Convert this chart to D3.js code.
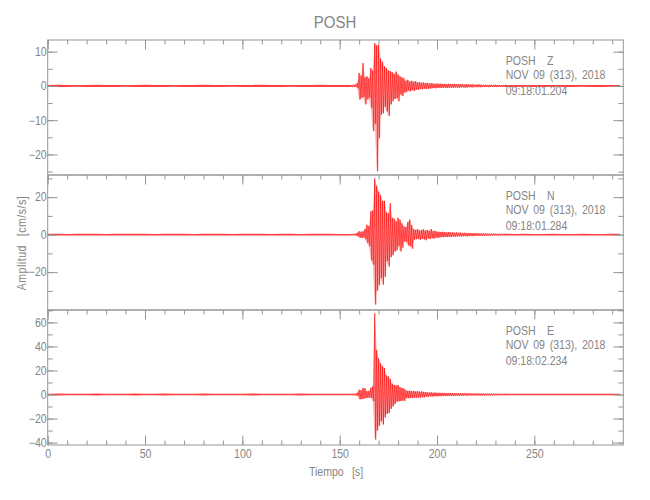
<!DOCTYPE html>
<html>
<head>
<meta charset="utf-8">
<script src="https://cdn.jsdelivr.net/npm/d3@7/dist/d3.min.js"></script>
<style>
  html, body { margin: 0; padding: 0; background: #fff; }
  svg { display: block; }
  text { font-family: "Liberation Sans", Arial, sans-serif; fill: #858585; word-spacing: 2px;
         transform-box: fill-box; transform: scaleX(0.88); }
  text.mid { transform-origin: center center; }
  text.left { transform-origin: left center; }
  text.right { transform-origin: right center; }
</style>
</head>
<body>
<svg id="chart" width="650" height="500"></svg>
<script>
// ---------------- DATA ----------------
const chartTitle = "POSH";
const station = "POSH";
const components = ["Z", "N", "E"];
const dateLabel = "NOV 09 (313), 2018";
const startTimes = ["09:18:01.204", "09:18:01.284", "09:18:02.234"];
const xLabel = "Tiempo [s]";
const yLabel = "Amplitud [cm/s/s]";
const xDomain = [0, 295.7];
const xMajorTicks = [0, 50, 100, 150, 200, 250];
const xMinorStep = 10;
const yDomains = [[-26, 13.4], [-40.2, 31.8], [-42, 70.3]];
const yMajorTicks = [[10, 0, -10, -20], [20, 0, -20], [60, 40, 20, 0, -20, -40]];
const yMinorStep = [5, 10, 10];

// pre-event noise amplitude, every 5 s from t = 0 to 150 s
const noiseStart = 0, noiseStep = 5;
const zNoise = [0.3,0.35,0.3,0.25,0.3,0.35,0.3,0.3,0.25,0.3,0.35,0.3,0.3,0.25,0.3,0.3,0.35,0.3,0.3,0.25,0.3,0.3,0.35,0.3,0.3,0.25,0.3,0.3,0.35,0.3,0.3];
const nNoise = [0.45,0.5,0.4,0.45,0.5,0.45,0.4,0.5,0.45,0.45,0.5,0.4,0.45,0.5,0.45,0.4,0.45,0.5,0.45,0.4,0.5,0.45,0.45,0.4,0.5,0.45,0.4,0.45,0.5,0.45,0.4];
const eNoise = [0.7,0.75,0.7,0.65,0.7,0.8,0.7,0.7,0.65,0.75,0.7,0.7,0.8,0.7,0.65,0.7,0.75,0.7,0.7,0.65,0.7,0.8,0.7,0.7,0.65,0.7,0.75,0.7,0.7,0.65,0.7];

// event: upper / lower peaks, every 1 s from t = 156 to 235 s
const eventStart = 156, eventStep = 1;
const zUp = [0.3,0.35,0.4,0.8,3.8,3.0,6.7,2.5,2.8,2.2,
             5.2,4.5,12.5,11.8,12.0,8.0,7.0,5.7,5.2,4.5,
             4.3,4.0,3.5,4.2,3.3,2.8,2.5,2.2,1.5,1.8,
             1.3,1.5,1.2,1.4,1.0,1.1,0.9,1.0,0.8,0.9,
             0.7,0.8,0.7,0.6,0.7,0.6,0.65,0.55,0.6,0.5,
             0.6,0.55,0.5,0.6,0.5,0.45,0.5,0.5,0.4,0.5,
             0.45,0.4,0.45,0.4,0.35,0.4,0.4,0.35,0.3,0.35,
             0.3,0.35,0.3,0.3,0.35,0.3,0.3,0.25,0.3,0.3];
const zLo = [-0.3,-0.3,-0.3,-0.7,-4.0,-3.5,-3.2,-5.4,-4.0,-3.5,
             -6.4,-13.2,-11.0,-24.9,-15.3,-8.4,-8.0,-6.0,-7.4,-8.8,
             -5.4,-4.5,-3.8,-3.5,-4.5,-2.5,-3.0,-2.0,-1.8,-1.4,
             -1.6,-1.2,-1.5,-1.1,-1.2,-0.9,-1.0,-0.8,-0.9,-0.8,
             -0.8,-0.7,-0.6,-0.7,-0.6,-0.55,-0.6,-0.5,-0.55,-0.6,
             -0.5,-0.5,-0.55,-0.45,-0.5,-0.5,-0.45,-0.4,-0.5,-0.45,
             -0.4,-0.4,-0.45,-0.35,-0.4,-0.35,-0.4,-0.3,-0.35,-0.3,
             -0.35,-0.3,-0.3,-0.3,-0.35,-0.3,-0.25,-0.3,-0.3,-0.3];
const nUp = [0.4,0.5,0.5,1.0,1.8,1.5,1.8,3.0,5.3,4.6,
             12.4,13.0,30.0,26.0,23.0,21.0,18.0,18.0,12.0,11.4,
             16.7,9.0,8.5,7.0,9.0,8.0,6.0,4.4,4.0,6.7,
             8.0,5.0,3.0,2.5,3.0,2.2,2.5,2.8,2.2,2.5,
             2.0,3.0,1.8,2.0,1.6,1.5,1.4,1.5,1.3,1.2,
             1.4,1.1,1.2,1.0,1.2,1.0,1.1,0.9,1.0,0.9,
             0.8,0.9,0.8,0.7,0.8,0.7,0.6,0.7,0.6,0.6,
             0.55,0.6,0.5,0.55,0.5,0.5,0.45,0.5,0.45,0.45];
const nLo = [-0.4,-0.4,-0.5,-0.9,-1.6,-1.8,-1.5,-2.5,-4.4,-6.2,
             -13.7,-16.0,-37.3,-30.0,-27.0,-23.0,-26.7,-22.6,-14.0,-17.0,
             -12.0,-11.0,-9.0,-8.4,-6.0,-9.0,-7.0,-3.6,-4.0,-5.7,
             -6.2,-7.5,-2.7,-2.5,-2.2,-2.8,-2.2,-2.5,-3.0,-2.0,
             -2.4,-1.8,-2.2,-1.6,-1.8,-1.5,-1.3,-1.4,-1.2,-1.3,
             -1.1,-1.2,-1.0,-1.1,-1.0,-0.9,-1.0,-0.9,-0.8,-0.9,
             -0.8,-0.7,-0.8,-0.7,-0.6,-0.7,-0.6,-0.6,-0.55,-0.6,
             -0.5,-0.55,-0.5,-0.45,-0.5,-0.45,-0.45,-0.4,-0.45,-0.4];
const eUp = [0.7,0.8,0.7,1.5,4.0,3.5,5.5,5.2,2.8,3.0,
             5.5,7.0,67.5,37.0,30.0,26.0,23.5,22.0,16.0,15.0,
             13.0,9.0,8.0,7.5,8.0,6.0,5.5,5.0,3.5,3.0,
             3.2,2.8,3.0,2.5,2.8,2.4,2.5,2.2,2.0,1.8,
             1.6,1.8,1.5,1.6,1.4,1.5,1.3,1.4,1.2,1.3,
             1.2,1.3,1.1,1.2,1.1,1.0,1.2,1.0,1.1,1.0,
             0.9,1.0,0.9,0.9,0.8,0.9,0.8,0.85,0.8,0.8,
             0.75,0.8,0.7,0.75,0.7,0.75,0.7,0.7,0.65,0.7];
const eLo = [-0.7,-0.7,-0.8,-1.2,-4.0,-3.9,-3.5,-3.0,-2.8,-2.5,
             -2.8,-5.5,-37.5,-30.0,-26.0,-22.0,-25.0,-19.0,-16.0,-15.5,
             -12.0,-10.0,-8.0,-6.0,-5.8,-5.5,-5.0,-5.5,-3.0,-3.2,
             -2.8,-3.0,-2.6,-2.8,-2.5,-2.6,-2.2,-2.4,-1.8,-2.0,
             -1.5,-1.7,-1.6,-1.4,-1.5,-1.3,-1.4,-1.2,-1.3,-1.2,
             -1.2,-1.1,-1.2,-1.0,-1.1,-1.0,-1.0,-1.1,-0.9,-1.0,
             -0.9,-0.9,-0.8,-0.9,-0.8,-0.8,-0.85,-0.75,-0.8,-0.75,
             -0.7,-0.75,-0.7,-0.7,-0.7,-0.65,-0.7,-0.65,-0.7,-0.65];

// post-event noise amplitude, every 5 s from t = 240 to 290 s
const postStart = 240, postStep = 5;
const zPost = [0.3,0.25,0.3,0.3,0.25,0.3,0.3,0.25,0.3,0.3,0.25];
const nPost = [0.4,0.45,0.4,0.4,0.45,0.4,0.4,0.45,0.4,0.4,0.45];
const ePost = [0.65,0.6,0.65,0.6,0.65,0.6,0.6,0.65,0.6,0.65,0.6];
const traceEnd = 294;

const traces = [
  { noise: zNoise, up: zUp, lo: zLo, post: zPost },
  { noise: nNoise, up: nUp, lo: nLo, post: nPost },
  { noise: eNoise, up: eUp, lo: eLo, post: ePost }
];

// ---------------- LAYOUT ----------------
const plotLeft = 47.7, plotRight = 623.3, plotTop = 40, plotBottom = 445;
const panelH = (plotBottom - plotTop) / 3;
const axisColor = "#969696";
const fontSize = 12;

const svg = d3.select("#chart");
const x = d3.scaleLinear().domain(xDomain).range([plotLeft, plotRight]);
const xMinor = d3.range(xDomain[0], xDomain[1], xMinorStep);

svg.append("text").attr("class", "mid").attr("x", 335).attr("y", 28).attr("text-anchor", "middle")
  .style("font-size", "17px").text(chartTitle);

function styleAxis(g) {
  g.select(".domain").remove();
  g.selectAll("line").attr("stroke", axisColor).attr("stroke-width", 1);
  g.selectAll("text").style("font-size", fontSize + "px").attr("fill", null)
    .style("font-family", null);
}

traces.forEach((tr, i) => {
  const top = plotTop + i * panelH, bottom = top + panelH;
  const y = d3.scaleLinear().domain(yDomains[i]).range([bottom, top]);
  const g = svg.append("g");

  const clipId = "clip" + i;
  svg.append("clipPath").attr("id", clipId).append("rect")
    .attr("x", plotLeft).attr("y", top).attr("width", plotRight - plotLeft).attr("height", panelH);

  const area = d3.area().x(d => x(d.t)).y0(d => y(d.lo)).y1(d => y(d.hi));

  // background noise envelopes (before and after the event)
  const pre = tr.noise.map((a, k) => ({ t: noiseStart + k * noiseStep, hi: a, lo: -a }));
  pre.push({ t: eventStart, hi: tr.up[0], lo: tr.lo[0] });
  const last = tr.up.length - 1;
  const post = [{ t: eventStart + last * eventStep, hi: tr.up[last], lo: tr.lo[last] }]
    .concat(tr.post.map((a, k) => ({ t: postStart + k * postStep, hi: a, lo: -a })));
  post.push({ t: traceEnd, hi: tr.post[tr.post.length - 1], lo: -tr.post[tr.post.length - 1] });
  [pre, post].forEach(seg => {
    g.append("path").attr("d", area(seg)).attr("fill", "#ff0000").attr("fill-opacity", 0.75)
      .attr("clip-path", `url(#${clipId})`);
  });

  // event envelope
  const ev = tr.up.map((u, k) => ({ t: eventStart + k * eventStep, hi: u, lo: tr.lo[k] }));
  g.append("path").attr("d", area(ev)).attr("fill", "#ff0000").attr("fill-opacity", 0.3)
    .attr("clip-path", `url(#${clipId})`);

  // oscillating trace through the peaks of the event
  const pts = [];
  tr.up.forEach((u, k) => {
    const t = eventStart + k * eventStep;
    pts.push([t, u]); pts.push([t + eventStep / 2, tr.lo[k]]);
  });
  const line = d3.line().x(d => x(d[0])).y(d => y(d[1]));
  g.append("path").attr("d", line(pts)).attr("fill", "none")
    .attr("stroke", "#ff0000").attr("stroke-width", 0.6)
    .attr("clip-path", `url(#${clipId})`);

  // y ticks
  const yMinor = d3.range(Math.ceil(yDomains[i][0] / yMinorStep[i]) * yMinorStep[i], yDomains[i][1], yMinorStep[i]);
  g.append("g").attr("transform", `translate(${plotLeft},0)`)
    .call(d3.axisLeft(y).tickValues(yMinor).tickSizeInner(-5).tickSizeOuter(0).tickFormat(""))
    .call(styleAxis);
  g.append("g").attr("transform", `translate(${plotLeft},0)`)
    .call(d3.axisLeft(y).tickValues(yMajorTicks[i]).tickSizeInner(-10).tickSizeOuter(0).tickPadding(1)
      .tickFormat(d => d < 0 ? "\u2212" + Math.abs(d) : String(d)))
    .call(styleAxis)
    .call(gg => gg.selectAll("text").attr("class", "right"));
  g.append("g").attr("transform", `translate(${plotRight},0)`)
    .call(d3.axisRight(y).tickValues(yMinor).tickSizeInner(-5).tickSizeOuter(0).tickFormat(""))
    .call(styleAxis);
  g.append("g").attr("transform", `translate(${plotRight},0)`)
    .call(d3.axisRight(y).tickValues(yMajorTicks[i]).tickSizeInner(-10).tickSizeOuter(0).tickFormat(""))
    .call(styleAxis);

  // top x ticks
  g.append("g").attr("transform", `translate(0,${top})`)
    .call(d3.axisTop(x).tickValues(xMinor).tickSizeInner(-4.5).tickSizeOuter(0).tickFormat(""))
    .call(styleAxis);
  g.append("g").attr("transform", `translate(0,${top})`)
    .call(d3.axisTop(x).tickValues(xMajorTicks).tickSizeInner(-9.5).tickSizeOuter(0).tickFormat(""))
    .call(styleAxis);

  if (i === traces.length - 1) {
    g.append("g").attr("transform", `translate(0,${bottom})`)
      .call(d3.axisBottom(x).tickValues(xMinor).tickSizeInner(-4.5).tickSizeOuter(0).tickFormat(""))
      .call(styleAxis);
    g.append("g").attr("transform", `translate(0,${bottom})`)
      .call(d3.axisBottom(x).tickValues(xMajorTicks).tickSizeInner(-9.5).tickSizeOuter(0).tickPadding(4))
      .call(styleAxis)
      .call(gg => gg.selectAll("text").attr("class", "mid"));
  }

  // box
  g.append("rect").attr("x", plotLeft).attr("y", top)
    .attr("width", plotRight - plotLeft).attr("height", panelH)
    .attr("fill", "none").attr("stroke", axisColor).attr("stroke-width", 1);

  // annotation
  const ann = g.append("text").attr("class", "left").attr("x", 505.7).style("font-size", fontSize + "px");
  const l1 = ann.append("tspan").attr("x", 505.7).attr("y", top + 25);
  l1.append("tspan").text(station);
  l1.append("tspan").attr("dx", 13).text(components[i]);
  ann.append("tspan").attr("x", 505.7).attr("y", top + 39.5).text(dateLabel);
  ann.append("tspan").attr("x", 505.7).attr("y", top + 55).text(startTimes[i]);
});

svg.append("text").attr("class", "mid").attr("x", 336).attr("y", 476).attr("text-anchor", "middle")
  .style("font-size", fontSize + "px").style("word-spacing", "6px").text(xLabel);
svg.append("g").attr("transform", "translate(26,243) rotate(-90)")
  .append("text").attr("class", "mid").attr("text-anchor", "middle")
  .style("font-size", fontSize + "px").style("word-spacing", "6px").style("letter-spacing", "0.6px")
  .text(yLabel);
</script>
</body>
</html>
